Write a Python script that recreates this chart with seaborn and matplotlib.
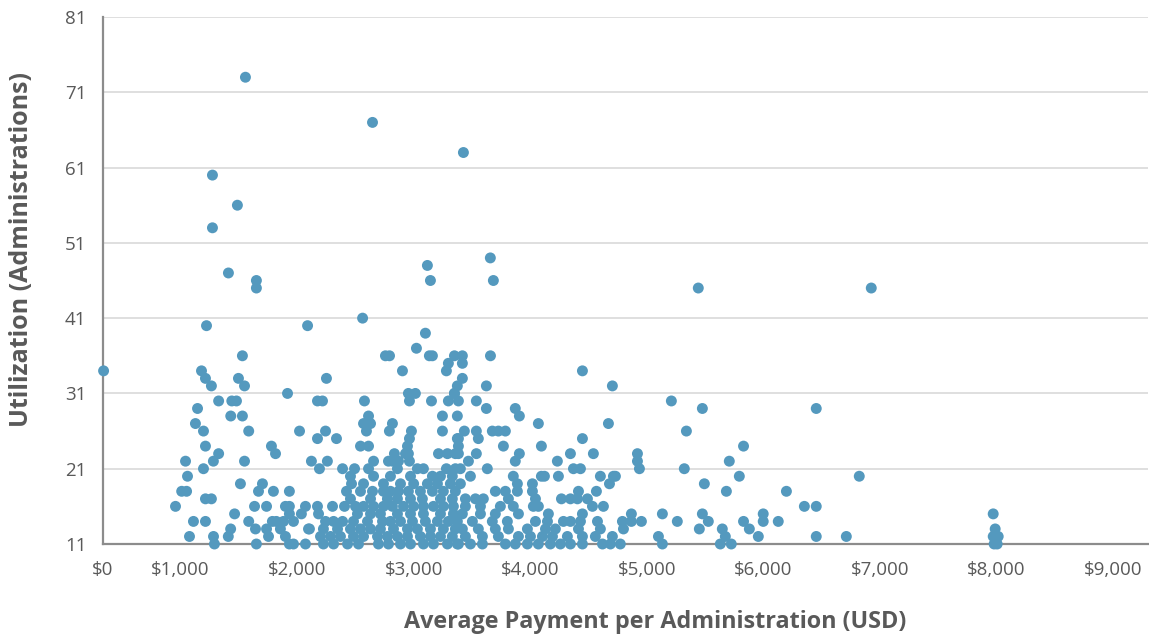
import matplotlib
matplotlib.use("Agg")
import matplotlib.pyplot as plt
import seaborn as sns
import pandas as pd

# ---- data: (average payment USD, utilization) ----
outlier_pay = [340, 1557, 2647, 3427, 1274, 1488, 1274, 3658, 3118, 1411, 1651, 3144, 3684,
               1651, 5442, 6926, 2562, 1223, 2090, 3101, 3024, 2758, 2793, 3135, 3161, 3350,
               3418, 3659, 3298, 3418, 2904, 3281, 4448, 3418, 3375, 3350, 3624, 4705]
outlier_util = [34, 73, 67, 63, 60, 56, 53, 49, 48, 47, 46, 46, 46,
                45, 45, 45, 41, 40, 40, 39, 37, 36, 36, 36, 36, 36,
                36, 36, 35, 35, 34, 34, 34, 33, 32, 31, 32, 32]

left_pay = [1180, 1214, 1265, 1531, 1497, 1549, 1327, 1440, 1480, 1146, 1128, 1431, 1531, 1197,
            1585, 1214, 1327, 1282, 1043, 1549, 1060, 1197, 1010, 1052, 1514, 1214, 1265, 957,
            1464, 1111, 1214, 1585, 1430, 1410, 1077, 1283, 1291, 1643, 1651, 1703, 1669, 1797,
            1934, 1635, 1738, 1788, 1822, 1738, 1755, 1857, 1900, 1934, 1934, 1883, 1969, 1900,
            1934, 1969, 2037, 2072, 2106, 2072, 1918, 2021, 1780, 1815, 2123, 2192, 2260, 2175,
            2218, 2252, 2175, 2244, 2338, 2175, 2184, 2304, 2390, 2493, 2458, 2424, 2467, 2544,
            2407]
left_util = [34, 33, 32, 36, 33, 32, 30, 30, 30, 29, 27, 28, 28, 26,
             26, 24, 23, 22, 22, 22, 20, 21, 18, 18, 19, 17, 17, 16,
             15, 14, 14, 14, 13, 12, 12, 12, 11, 13, 11, 19, 18, 18,
             18, 16, 16, 14, 14, 13, 12, 13, 16, 16, 15, 14, 14, 12,
             11, 11, 15, 16, 13, 11, 31, 26, 24, 23, 22, 21, 22, 30,
             30, 33, 25, 26, 25, 16, 15, 16, 21, 21, 20, 18, 19, 18,
             16]

mid_upper_pay = [2578, 2955, 3015, 2964, 3153, 3298, 3350, 2613, 2570, 2630, 2818, 2792, 3247,
                 3375, 2595, 2981, 2964, 2947, 2930, 3247, 3375, 2544, 2613, 2835, 2818, 2955,
                 3213, 3290, 3358, 2656, 2613, 2784, 2870, 2861, 2964, 3032, 3084, 3281, 3358]
mid_upper_util = [30, 31, 31, 30, 30, 30, 31, 28, 27, 27, 27, 26, 28,
                  28, 26, 26, 25, 24, 23, 26, 25, 24, 24, 23, 22, 23,
                  23, 23, 23, 22, 21, 22, 22, 21, 22, 21, 21, 21, 21]

row20_pay = [2656, 2801, 2973, 3161, 3230, 3332]
row19_pay = [2570, 2741, 2887, 3000, 3118, 3204, 3315]
row18_pay = [2647, 2741, 2801, 2870, 2955, 3058, 3161, 3255, 3358]
row17_pay = [2458, 2630, 2775, 2861, 2973, 3075, 3230, 3332]
row16_pay = [2501, 2570, 2656, 2741, 2818, 2913, 3000, 3084, 3170, 3255, 3341]
row15_pay = [2518, 2630, 2715, 2861, 2973, 3084, 3230, 3341]
row14_pay = [2244, 2313, 2390, 2484, 2604, 2733, 2801, 2887, 2990, 3101, 3204, 3298, 3375]
row13_pay = [2098, 2226, 2347, 2458, 2544, 2630, 2715, 2827, 2947, 3032, 3144, 3255, 3358]
row12_pay = [2201, 2287, 2372, 2484, 2570, 2690, 2775, 2861, 2947, 3058, 3144, 3230, 3332]
row11_pay = [2226, 2313, 2433, 2527, 2698, 2784, 2887, 2973, 3084, 3170, 3290, 3375]

right_pay = [3384, 3538, 3624, 3872, 3907, 4070, 4671, 3435, 3538, 3555, 3675, 3727, 3787, 3770,
             4096, 4448, 3384, 3384, 3538, 3470, 3401, 3907, 3872, 4345, 4542, 4233, 3632, 4371,
             4431, 3487, 3855, 4096, 4122, 4242, 4602, 4714, 3401, 3890, 3890, 4019, 4019, 4680,
             3701, 3787, 4414, 4568, 3444, 3530, 3598, 3813, 4045, 4268, 4345, 4405, 4491, 3384]
right_util = [30, 30, 29, 29, 28, 27, 27, 26, 26, 25, 26, 26, 26, 24,
              24, 25, 24, 23, 23, 22, 21, 23, 22, 23, 23, 22, 21, 21,
              21, 20, 20, 20, 20, 20, 20, 20, 19, 19, 18, 19, 18, 19,
              18, 18, 18, 18, 17, 17, 17, 17, 17, 17, 17, 17, 17, 25]

r_row16_pay = [3444, 3573, 3744, 3855, 4027, 4070, 4534, 4628]
r_row15_pay = [3418, 3573, 3701, 3899, 4156, 4448]
r_row14_pay = [3504, 3675, 3804, 4045, 4148, 4285, 4345, 4431, 4577]
r_row13_pay = [3418, 3555, 3701, 3813, 3976, 4131, 4216, 4414, 4602]
r_row12_pay = [3444, 3590, 3727, 3899, 4002, 4105, 4191, 4319, 4448, 4559, 4705]
r_row11_pay = [3384, 3487, 3590, 3787, 3872, 3976, 4070, 4173, 4259, 4345, 4448, 4620, 4688, 4773]

far_pay = [4920, 4920, 4937, 5830, 5708, 5794, 5322, 5494, 5683, 4731, 5134, 5262, 4868, 4868,
           4954, 4791, 4800, 5100, 5134, 5451, 5477, 5528, 5648, 5631, 5725, 5830, 5880, 5957,
           5999, 5999, 6128, 5211, 5477, 5340, 5674, 6454, 6823, 6198, 6352, 6454, 6454, 6712,
           7972, 7989, 7972, 8015, 8006, 7980]
far_util = [23, 22, 21, 24, 22, 20, 21, 19, 18, 20, 15, 14, 15, 14,
            14, 14, 13, 12, 11, 13, 15, 14, 13, 11, 11, 14, 13, 12,
            15, 14, 14, 30, 29, 26, 12, 29, 20, 18, 16, 16, 12, 12,
            15, 13, 12, 12, 11, 11]

y_ticks = [11, 21, 31, 41, 51, 61, 71, 81]
x_tick_labels = ["$0", "$1,000", "$2,000", "$3,000", "$4,000", "$5,000",
                 "$6,000", "$7,000", "$8,000", "$9,000"]

# ---- assemble ----
pay, util = [], []
for p, u in [(outlier_pay, outlier_util), (left_pay, left_util),
             (mid_upper_pay, mid_upper_util), (right_pay, right_util),
             (far_pay, far_util)]:
    pay += p
    util += u
for lst, level in [(row20_pay, 20), (row19_pay, 19), (row18_pay, 18), (row17_pay, 17),
                   (row16_pay, 16), (row15_pay, 15), (row14_pay, 14), (row13_pay, 13),
                   (row12_pay, 12), (row11_pay, 11),
                   (r_row16_pay, 16), (r_row15_pay, 15), (r_row14_pay, 14),
                   (r_row13_pay, 13), (r_row12_pay, 12), (r_row11_pay, 11)]:
    pay += lst
    util += [level] * len(lst)

df = pd.DataFrame({"pay": pay, "util": util})

sns.set_style("white")
plt.rcParams["font.family"] = ["Open Sans", "DejaVu Sans"]

fig = plt.figure(figsize=(11.49, 6.35), dpi=100)
ax = fig.add_axes([103 / 1149, 91 / 635, 1045 / 1149, (544 - 17) / 635])

sns.scatterplot(data=df, x="pay", y="util", ax=ax, color="#5499BE", s=62,
                linewidth=0, edgecolor="none", clip_on=False, zorder=3)

x_min, x_max = 335, 9300
ax.set_xlim(x_min, x_max)
ax.set_ylim(11, 81)
ax.set_yticks(y_ticks)
ax.set_xticks([x_min] + [1000 * i for i in range(1, 10)])
ax.set_xticklabels(x_tick_labels)

ax.grid(axis="y", color="#D9D9D9", linewidth=1.2, zorder=0)
ax.grid(axis="x", visible=False)
for side in ["top", "right"]:
    ax.spines[side].set_visible(False)
for side in ["left", "bottom"]:
    ax.spines[side].set_color("#8C8C8C")
    ax.spines[side].set_linewidth(1.6)
    ax.spines[side].set_zorder(2)

ax.tick_params(axis="both", length=0, labelsize=13.5, colors="#595959")
ax.tick_params(axis="y", pad=12)
ax.tick_params(axis="x", pad=12)

ax.set_xlabel("Average Payment per Administration (USD)", fontsize=16.8, fontweight="bold",
              color="#595959")
ax.set_ylabel("Utilization (Administrations)", fontsize=18, fontweight="bold",
              color="#595959")
ax.xaxis.set_label_coords(0.528, -0.125)
ax.yaxis.set_label_coords(-0.066, 0.558)

fig.savefig("out.png", dpi=100, facecolor="white")
